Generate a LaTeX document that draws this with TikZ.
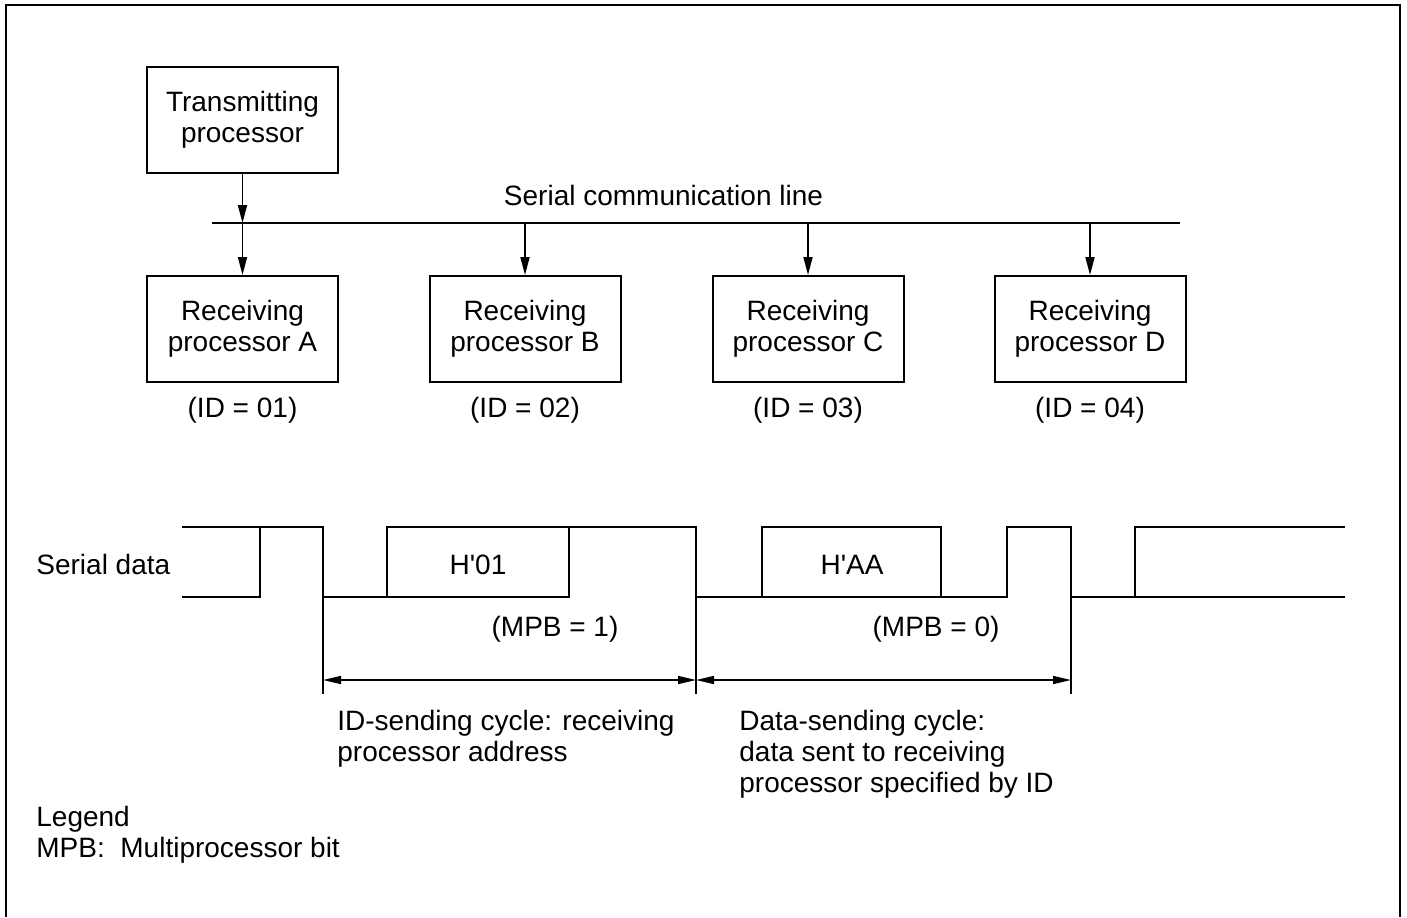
\documentclass[tikz,border=0pt]{standalone}
\usepackage{fontspec}
\newfontfamily\arialfont{Liberation Sans}
\usetikzlibrary{arrows.meta}
\begin{document}
\begin{tikzpicture}[x=0.5pt,y=-0.5pt,
  every node/.style={font=\arialfont\fontsize{14pt}{15.5pt}\selectfont, inner sep=0pt},
  line/.style={line width=1pt},
  box/.style={draw, line width=1pt, minimum width=95.5pt, minimum height=53pt, align=center,
    execute at begin node={\rule{0pt}{14pt}}},
  arr/.style={line width=0.9pt, -{Triangle[length=9pt,width=4.5pt]}},
  dim/.style={line width=0.8pt, {Triangle[length=9pt,width=4pt]}-{Triangle[length=9pt,width=4pt]}},
  txt/.style={align=left, anchor=north west}
]
\useasboundingbox (0,0) rectangle (1407,917);
% frame
\draw[line width=1.2pt] (6,917) -- (6,5) -- (1400,5) -- (1400,917);

% transmitting processor and bus
\node[box] (T) at (242.5,120) {Transmitting\\processor};
\coordinate (busL) at (212,223);
\coordinate (busR) at (1180,223);
\draw[line] (busL) -- (busR);
\node[anchor=base] (SCL) at (663.5,205) {Serial communication line};

% receiving processors
\node[box] (RA) at (242.5,329) {Receiving\\processor A};
\node[box] (RB) at (525,329) {Receiving\\processor B};
\node[box] (RC) at (808,329) {Receiving\\processor C};
\node[box] (RD) at (1090,329) {Receiving\\processor D};

\coordinate (tA) at (242.5,223);
\coordinate (tB) at (525,223);
\coordinate (tC) at (808,223);
\coordinate (tD) at (1090,223);

\draw[arr] (T) -- (tA);
\draw[arr] (tA) -- (RA);
\draw[arr] (tB) -- (RB);
\draw[arr] (tC) -- (RC);
\draw[arr] (tD) -- (RD);

\node[anchor=base] (idA) at (242.5,417) {(ID = 01)};
\node[anchor=base] (idB) at (525,417) {(ID = 02)};
\node[anchor=base] (idC) at (808,417) {(ID = 03)};
\node[anchor=base] (idD) at (1090,417) {(ID = 04)};

% serial data waveform
\node[anchor=base west] (SD) at (36,574) {Serial data};
\draw[line] (182,597) -- (260,597) -- (260,527);
\draw[line] (182,527) -- (323,527) -- (323,694);
\draw[line] (323,597) -- (569,597) -- (569,527);
\draw[line] (387,597) -- (387,527) -- (696,527) -- (696,694);
\draw[line] (696,597) -- (1007,597) -- (1007,527) -- (1071,527) -- (1071,694);
\draw[line] (762,597) -- (762,527) -- (941,527) -- (941,597);
\draw[line] (1071,597) -- (1345,597);
\draw[line] (1135,597) -- (1135,527) -- (1345,527);

\node[anchor=base] (H01) at (478,574) {H'01};
\node[anchor=base] (HAA) at (852,574) {H'AA};
\node[anchor=base] (mpb1) at (555,636) {(MPB = 1)};
\node[anchor=base] (mpb0) at (936,636) {(MPB = 0)};

% dimension arrows
\coordinate (d1) at (323,680);
\coordinate (d2) at (696,680);
\coordinate (d3) at (1071,680);
\draw[dim] (d1) -- (d2);
\draw[dim] (d2) -- (d3);

\node[txt] (idcyc) at (337,710) {ID-sending cycle: receiving\\processor address};
\node[txt] (datacyc) at (739,710) {Data-sending cycle:\\data sent to receiving\\processor specified by ID};

\node[txt] (legend) at (36,806) {Legend\\MPB:\ \ Multiprocessor bit};
\end{tikzpicture}
\end{document}
